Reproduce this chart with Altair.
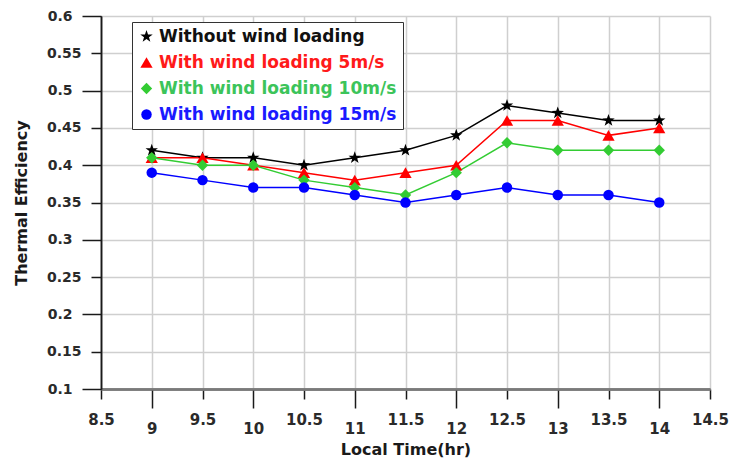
import altair as alt
import pandas as pd

times = [9, 9.5, 10, 10.5, 11, 11.5, 12, 12.5, 13, 13.5, 14]
series_names = [
    "Without wind loading",
    "With wind loading 5m/s",
    "With wind loading 10m/s",
    "With wind loading 15m/s",
]
no_wind = [0.42, 0.41, 0.41, 0.40, 0.41, 0.42, 0.44, 0.48, 0.47, 0.46, 0.46]
wind_5 = [0.41, 0.41, 0.40, 0.39, 0.38, 0.39, 0.40, 0.46, 0.46, 0.44, 0.45]
wind_10 = [0.41, 0.40, 0.40, 0.38, 0.37, 0.36, 0.39, 0.43, 0.42, 0.42, 0.42]
wind_15 = [0.39, 0.38, 0.37, 0.37, 0.36, 0.35, 0.36, 0.37, 0.36, 0.36, 0.35]

x_minor_ticks = [8.5, 9.5, 10.5, 11.5, 12.5, 13.5, 14.5]
x_major_ticks = [9, 10, 11, 12, 13, 14]
y_major_ticks = [0.1, 0.2, 0.3, 0.4, 0.5, 0.6]
y_minor_ticks = [0.15, 0.25, 0.35, 0.45, 0.55]

colors = ["#000000", "#ff0000", "#33cc33", "#0000ff"]
label_colors = ["#111111", "#ff1a1a", "#3cc45a", "#1a1aff"]
star = ("M0,-1L0.235,-0.324L0.951,-0.309L0.380,0.124L0.588,0.809L0,0.4"
        "L-0.588,0.809L-0.380,0.124L-0.951,-0.309L-0.235,-0.324Z")
shapes = [star, "triangle-up", "diamond", "circle"]
sizes = [170, 110, 110, 180]

rows = []
for name, vals in zip(series_names, [no_wind, wind_5, wind_10, wind_15]):
    for t, v in zip(times, vals):
        rows.append({"time": t, "value": v, "series": name})
df = pd.DataFrame(rows)

expr = "'" + label_colors[-1] + "'"
for n, c in reversed(list(zip(series_names[:-1], label_colors[:-1]))):
    expr = f"datum.value == '{n}' ? '{c}' : ({expr})"

FONT = "DejaVu Sans"
x_scale = alt.Scale(domain=[8.5, 14.5], nice=False, zero=False)
y_scale = alt.Scale(domain=[0.1, 0.6], nice=False, zero=False)

common_axis = dict(
    labelFont=FONT, labelFontWeight="bold", labelColor="#2a2a2a",
    titleFont=FONT, titleFontWeight="bold", titleColor="#1a1a1a", titleFontSize=16,
    grid=True, gridColor="#cfcfcf", gridWidth=1.5,
    tickColor="#1a1a1a", tickWidth=1.5,
)

x_minor_axis = alt.Axis(values=x_minor_ticks, orient="bottom", format=".1~f",
                        tickSize=10, labelPadding=13, labelFontSize=15,
                        domainColor="#7a7a7a", domainWidth=2.5, title=None,
                        labelFlush=False, labelOverlap=False, **common_axis)
x_major_axis = alt.Axis(values=x_major_ticks, orient="bottom", format=".1~f",
                        tickSize=19, labelPadding=13, labelFontSize=15,
                        domainColor="#7a7a7a", domainWidth=2.5,
                        title="Local Time(hr)", titlePadding=5,
                        labelFlush=False, labelOverlap=False, **common_axis)
y_major_axis = alt.Axis(values=y_major_ticks, orient="left", format=".2~f",
                        tickSize=19, labelPadding=10, labelFontSize=14,
                        domainColor="#1a1a1a", domainWidth=1.5,
                        title="Thermal Efficiency", titlePadding=18,
                        labelFlush=False, labelOverlap=False, **common_axis)
y_minor_axis = alt.Axis(values=y_minor_ticks, orient="left", format=".2~f",
                        tickSize=10, labelPadding=10, labelFontSize=14,
                        domainColor="#1a1a1a", domainWidth=1.5, title=None,
                        labelFlush=False, labelOverlap=False, **common_axis)

color_scale = alt.Scale(domain=series_names, range=colors)
shape_scale = alt.Scale(domain=series_names, range=shapes)
size_scale = alt.Scale(domain=series_names, range=sizes)
# same mapping, listed in reverse so the (hidden) line legend is kept apart
line_scale = alt.Scale(domain=series_names[::-1], range=colors[::-1])

legend = alt.Legend(
    title=None, orient="none", legendX=31, legendY=6,
    labelFont=FONT, labelFontWeight="bold", labelFontSize=17,
    labelColor={"expr": expr}, labelLimit=400, labelOffset=4,
    padding=6, rowPadding=8, strokeColor="#333333", fillColor="white",
)

base = alt.Chart(df)

lines = base.mark_line(strokeWidth=1.5).encode(
    x=alt.X("time:Q", scale=x_scale, axis=x_minor_axis),
    y=alt.Y("value:Q", scale=y_scale, axis=y_major_axis),
    stroke=alt.Stroke("series:N", scale=line_scale, legend=None),
    detail="series:N",
)

alt_axes = base.mark_point(opacity=0).encode(
    x=alt.X("time:Q", scale=x_scale, axis=x_major_axis),
    y=alt.Y("value:Q", scale=y_scale, axis=y_minor_axis),
)

points = base.mark_point(filled=True, opacity=1).encode(
    x=alt.X("time:Q", scale=x_scale, axis=None),
    y=alt.Y("value:Q", scale=y_scale, axis=None),
    color=alt.Color("series:N", scale=color_scale, legend=legend),
    shape=alt.Shape("series:N", scale=shape_scale, legend=legend),
    size=alt.Size("series:N", scale=size_scale, legend=legend),
)

chart = (
    alt.layer(lines, alt_axes, points)
    .resolve_axis(x="independent", y="independent")
    .properties(
        width=609, height=373,
        padding={"left": 101, "top": 16, "right": 21, "bottom": 73},
        autosize=alt.AutoSizeParams(type="none"),
        background="white",
    )
    .configure_view(strokeWidth=0)
)

chart.save("out.html", embed_options={"renderer": "svg", "actions": False})
